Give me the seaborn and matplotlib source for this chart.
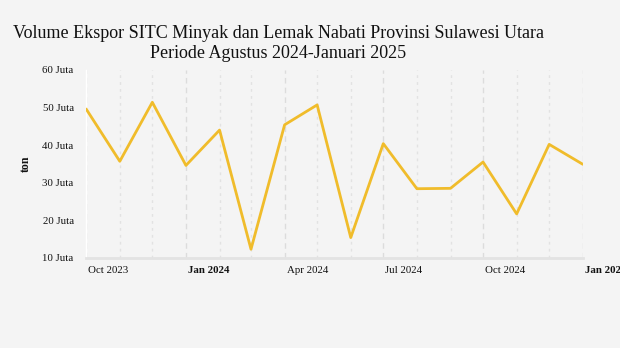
import matplotlib
matplotlib.use("Agg")
import matplotlib.pyplot as plt
import matplotlib.dates as mdates
import numpy as np
import pandas as pd
import seaborn as sns

# Monthly export volume (tons)
months = pd.date_range("2023-10-01", "2025-01-01", freq="MS")
volume_juta = [49.6, 35.7, 51.4, 34.6, 44.0, 12.3, 45.4, 50.7,
               15.4, 40.4, 28.4, 28.5, 35.5, 21.7, 40.2, 34.9]
y_ticks = [10, 20, 30, 40, 50, 60]
y_tick_labels = [f"{v} Juta" for v in y_ticks]

title = ("Volume Ekspor SITC Minyak dan Lemak Nabati Provinsi Sulawesi Utara\n"
         "Periode Agustus 2024-Januari 2025")

df = pd.DataFrame({"bulan": months, "volume": np.array(volume_juta) * 1e6})

sns.set_theme(style="white")
plt.rcParams["font.family"] = ["Liberation Serif", "DejaVu Serif"]

bg = "#f4f4f4"
fig = plt.figure(figsize=(6.2, 3.48), dpi=100, facecolor=bg)
ax = fig.add_axes([0.139, 0.259, 0.801, 0.540])
ax.set_facecolor(bg)

sns.lineplot(data=df, x="bulan", y="volume", ax=ax, color="#f0bc2b",
             linewidth=2.0, zorder=3)

ax.set_xlim(months[0], months[-1])
ax.set_ylim(10e6, 60e6)
ax.set_yticks([v * 1e6 for v in y_ticks])
ax.set_yticklabels(y_tick_labels)

ax.xaxis.set_major_locator(mdates.MonthLocator(bymonth=[1, 4, 7, 10]))
ax.xaxis.set_minor_locator(mdates.MonthLocator())
ax.xaxis.set_major_formatter(mdates.DateFormatter("%b %Y"))

ax.grid(which="major", axis="x", color="#dcdcdc", linestyle=(0, (4, 3)), linewidth=1.0)
ax.grid(which="minor", axis="x", color="#e2e2e2", linestyle=(0, (2, 3)), linewidth=1.0)
ax.grid(axis="y", visible=False)

for s in ["top", "right"]:
    ax.spines[s].set_visible(False)
ax.spines["left"].set_color("white")
ax.spines["left"].set_linewidth(1.0)
ax.spines["bottom"].set_color("#e3e3e3")
ax.spines["bottom"].set_linewidth(2.0)

ax.tick_params(axis="y", which="major", length=6, width=1.0, color="white",
               pad=3, labelsize=7.8, labelcolor="#111111")
ax.tick_params(axis="x", which="both", length=0, pad=6, labelsize=7.8,
               labelcolor="#111111")

fig.canvas.draw()
for lbl in ax.get_xticklabels():
    lbl.set_horizontalalignment("left")
    if lbl.get_text().startswith("Jan"):
        lbl.set_fontweight("bold")
offset = matplotlib.transforms.ScaledTranslation(2 / 100, 0, fig.dpi_scale_trans)
for lbl in ax.get_xticklabels():
    lbl.set_transform(lbl.get_transform() + offset)

ax.set_xlabel("")
ax.set_ylabel("ton", fontsize=8.5, fontweight="bold", color="#111111")
ax.yaxis.set_label_coords(-0.11, 0.5)

fig.text(0.449, 0.876, title, ha="center", va="center", fontsize=13,
         color="#111111", linespacing=1.25)

fig.savefig("out.png", dpi=100, facecolor=bg)
